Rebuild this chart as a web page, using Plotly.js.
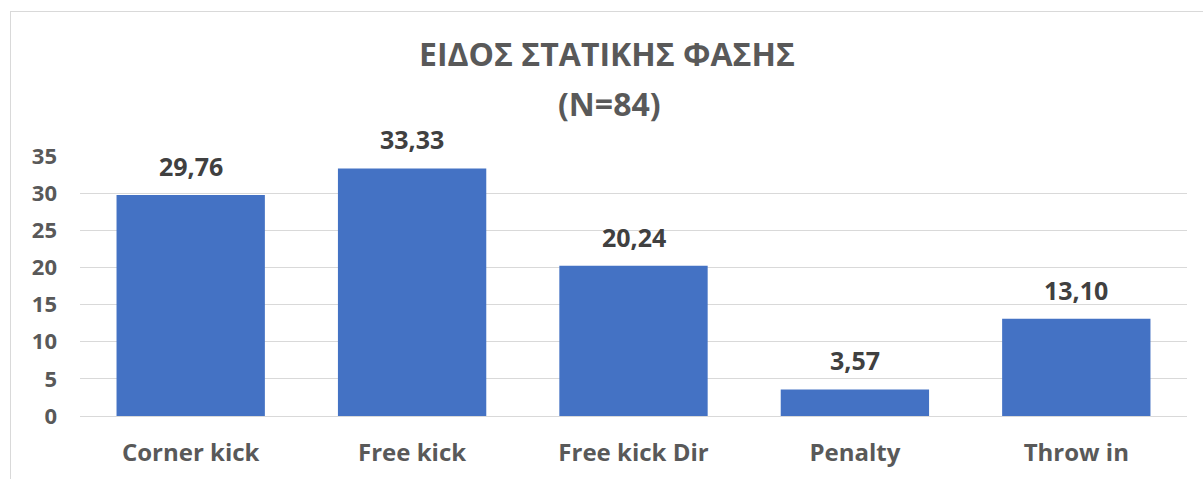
<!DOCTYPE html>
<html>
<head>
<meta charset="utf-8">
<script src="https://cdn.plot.ly/plotly-3.0.1.min.js"></script>
<style>
html,body{margin:0;padding:0;background:#fff;}
#chart{width:1203px;height:479px;}
#frame{position:absolute;left:10px;top:11px;width:1300px;height:600px;border-left:1px solid #d9d9d9;border-top:1px solid #d9d9d9;pointer-events:none;}
</style>
</head>
<body>
<div id="chart"></div>
<div id="frame"></div>
<script>
const categories = ["Corner kick", "Free kick", "Free kick Dir", "Penalty", "Throw in"];
const values = [29.76, 33.33, 20.24, 3.57, 13.10];
const valueLabels = ["29,76", "33,33", "20,24", "3,57", "13,10"];
const yTicks = [0, 5, 10, 15, 20, 25, 30, 35];
const titleLine1 = "ΕΙΔΟΣ ΣΤΑΤΙΚΗΣ ΦΑΣΗΣ";
const titleLine2 = "(N=84)";

const font = "Open Sans, sans-serif";
const trace = {
  type: "bar",
  x: categories,
  y: values,
  marker: {color: "#4472C4"},
  hoverinfo: "skip"
};
const labelAnnotations = categories.map((c, i) => ({
  x: c, y: values[i], xref: "x", yref: "y",
  text: "<b>" + valueLabels[i] + "</b>",
  showarrow: false, yanchor: "bottom", yshift: 10,
  font: {family: font, size: 25, color: "#404040"}
}));
// second title line, placed in paper coords (plot area 80..1187 x, 156..416 y)
labelAnnotations.push({
  x: (609 - 80) / 1107, y: (416 - 103) / 260, xref: "paper", yref: "paper",
  text: "<b>" + titleLine2 + "</b>", showarrow: false,
  xanchor: "center", yanchor: "middle",
  font: {family: font, size: 32, color: "#595959"}
});

const layout = {
  width: 1203, height: 479,
  margin: {l: 80, r: 16, t: 156, b: 63},
  paper_bgcolor: "#fff", plot_bgcolor: "#fff",
  bargap: 0.33,
  showlegend: false,
  title: {
    text: "<b>" + titleLine1 + "</b>",
    font: {family: font, size: 32, color: "#595959"},
    x: 607 / 1203, xanchor: "center", xref: "container",
    y: (479 - 55) / 479, yanchor: "middle", yref: "container"
  },
  annotations: labelAnnotations,
  xaxis: {
    tickfont: {family: font, size: 24, color: "#595959", weight: "bold"},
    showline: false, ticks: "", fixedrange: true,
    ticklabelstandoff: 20
  },
  yaxis: {
    range: [0, 35],
    tickvals: yTicks,
    ticktext: yTicks.map(String),
    tickfont: {family: font, size: 22, color: "#595959", weight: "bold"},
    showgrid: true, gridcolor: "#d9d9d9", gridwidth: 1,
    zeroline: true, zerolinecolor: "#d9d9d9", zerolinewidth: 1,
    ticks: "", ticklen: 0, fixedrange: true,
    ticklabelstandoff: 22
  }
};
Plotly.newPlot("chart", [trace], layout, {displayModeBar: false, staticPlot: true});
</script>
</body>
</html>
